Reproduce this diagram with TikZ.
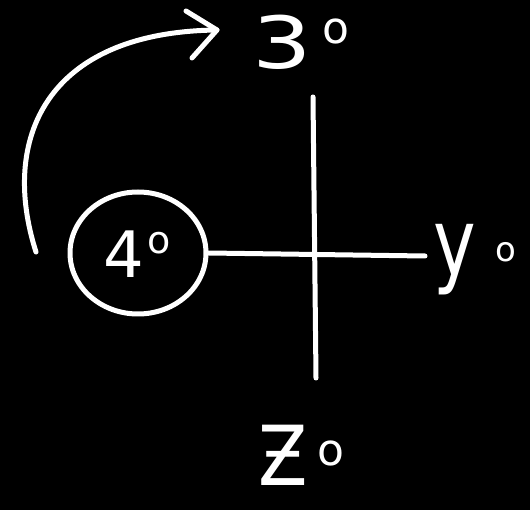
\documentclass[tikz,border=0pt]{standalone}
\usepackage{fontspec}
\setmainfont{DejaVu Sans}
\usetikzlibrary{arrows.meta,shapes.geometric}
\begin{document}
\begin{tikzpicture}[x=1pt,y=-1pt,
  ink/.style={draw=white,line width=5pt,line cap=round,line join=round},
  lbl/.style={text=white,inner sep=0pt,font=\fontsize{72}{74}\selectfont},
  sub/.style={text=white,inner sep=0pt,font=\fontsize{44}{46}\selectfont}]
\fill[black] (0,0) rectangle (530,510);
\useasboundingbox (0,0) rectangle (530,510);
% axes
\coordinate (vt) at (313,97);
\coordinate (vb) at (316,378);
\coordinate (hr) at (425,256);
\node[ink,ellipse,minimum width=136pt,minimum height=122pt,inner sep=0pt] (c) at (138,253) {};
\draw[ink] (vt) -- (vb);
\draw[ink] (c.east) -- (hr);
% labels
\node[lbl,font=\fontsize{64}{66}\selectfont] (l) at (124,254) {4};
\node[sub,font=\fontsize{38}{40}\selectfont] (lo) at (159,243) {o};
\node[lbl,xscale=1.3] (t) at (282,42) {3};
\node[sub] (to) at (336,31) {o};
\node[lbl,yscale=1.3] (r) at (455,260) {y};
\node[sub,font=\fontsize{34}{36}\selectfont] (ro) at (506,252) {o};
\node[lbl,yscale=1.15] (b) at (283,455) {Ƶ};
\node[sub] (bo) at (331,453) {o};
% rotation arrow
\coordinate (a0) at (36,252);
\coordinate (a1) at (217,30);
\draw[ink] (a0) .. controls (0,140) and (45,32) .. (a1);
\draw[ink] (186,11) -- (a1) -- (192,58);
\end{tikzpicture}
\end{document}
